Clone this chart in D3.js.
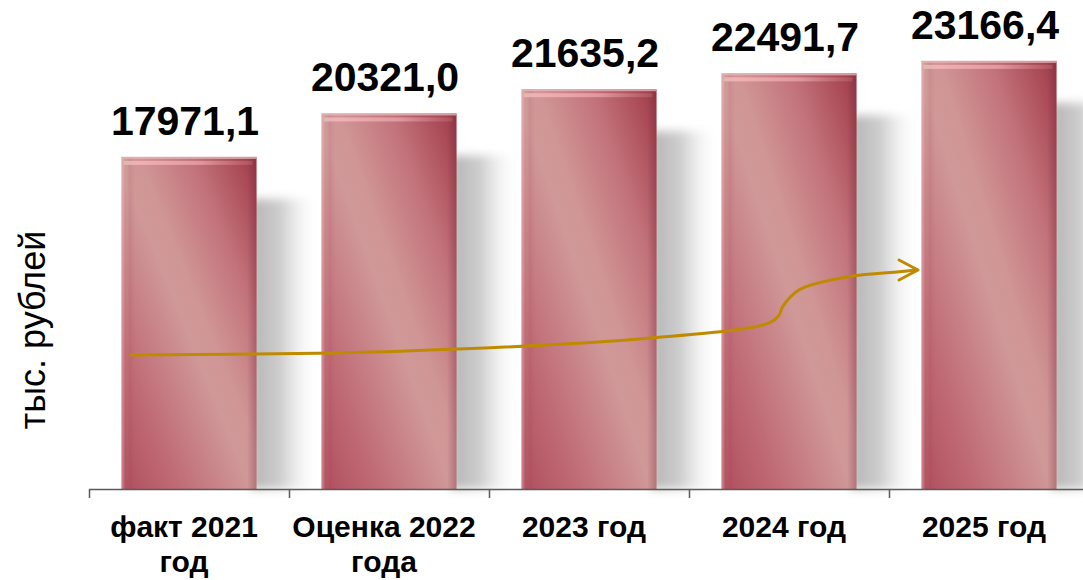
<!DOCTYPE html>
<html>
<head>
<meta charset="utf-8">
<script src="https://cdn.jsdelivr.net/npm/d3@7"></script>
<style>
  html, body { margin: 0; padding: 0; background: #fff; }
  svg { display: block; }
  text { font-family: "Liberation Sans", Arial, Helvetica, sans-serif; }
</style>
</head>
<body>
<svg id="chart" width="1083" height="580"></svg>
<script>
// ---- data ----
const categories = ["факт 2021 год", "Оценка 2022 года", "2023 год", "2024 год", "2025 год"];
const categoryLines = [["факт 2021", "год"], ["Оценка 2022", "года"], ["2023 год"], ["2024 год"], ["2025 год"]];
const values = [17971.1, 20321.0, 21635.2, 22491.7, 23166.4];
const yAxisTitle = "тыс. рублей";
// trend arrow path in (category index position, value) units
const arrowIdx = [0.21, 1.555, 2.805, 3.405, 3.45, 3.47, 3.555, 3.805, 4.05, 4.14];
const arrowVal = [7250, 7460, 8170, 9000, 9400, 9900, 10800, 11500, 11760, 11850];

// ---- layout ----
const W = 1083, H = 580;
const svg = d3.select("#chart");
const x = d3.scaleBand().domain(categories).range([89, 1089]).paddingInner(0.325).paddingOuter(0.1625);
const xi = d3.scaleLinear().domain([0, categories.length]).range([89, 1089]);
const y = d3.scaleLinear().domain([0, 25000]).range([489, 27]);
const fmt = d3.formatLocale({decimal: ",", thousands: "", grouping: [3], currency: ["", ""]}).format(".1f");

const defs = svg.append("defs");
const g1 = defs.append("linearGradient").attr("id", "barGrad")
  .attr("x1", 0).attr("y1", 1).attr("x2", 1).attr("y2", 0);
[[0, "#b04e5e"], [0.22, "#c06c76"], [0.48, "#d09898"], [0.56, "#d09696"], [0.76, "#c2727a"], [0.92, "#ab4c58"], [1, "#9c3a48"]]
  .forEach(([o, c]) => g1.append("stop").attr("offset", o).attr("stop-color", c));

const g2 = defs.append("linearGradient").attr("id", "edgeGrad").attr("x1", 0).attr("x2", 1).attr("y1", 0).attr("y2", 0);
[[0, "#f0c8c8", 0.5], [0.03, "#f0c8c8", 0.0], [0.06, "#8a3040", 0.1], [0.1, "#8a3040", 0.0],
 [0.93, "#6a2030", 0.0], [0.98, "#6a2030", 0.22], [1, "#6a2030", 0.3]]
  .forEach(([o, c, op]) => g2.append("stop").attr("offset", o).attr("stop-color", c).attr("stop-opacity", op));

const g3 = defs.append("linearGradient").attr("id", "shadowGrad").attr("x1", 0).attr("x2", 1).attr("y1", 0).attr("y2", 0);
[[0, "#b4b4b4", 1], [0.45, "#cfcfcf", 1], [1, "#ffffff", 0]]
  .forEach(([o, c, op]) => g3.append("stop").attr("offset", o).attr("stop-color", c).attr("stop-opacity", op));

defs.append("filter").attr("id", "blur").attr("x", "-20%").attr("y", "-20%").attr("width", "140%").attr("height", "140%")
  .append("feGaussianBlur").attr("stdDeviation", 5);

const g4 = defs.append("linearGradient").attr("id", "topGrad").attr("x1", 0).attr("x2", 1).attr("y1", 0).attr("y2", 0);
[[0, "#e0bcb4", 0.9], [0.1, "#f4b4b8", 0.9], [0.6, "#eea8ae", 0.7], [1, "#c0707a", 0.4]]
  .forEach(([o, c, op]) => g4.append("stop").attr("offset", o).attr("stop-color", c).attr("stop-opacity", op));

// shadows
const shadowW = x.step() - x.bandwidth();
svg.append("g").selectAll("rect").data(values).join("rect")
  .attr("x", (d, i) => x(categories[i]) + x.bandwidth() - 6)
  .attr("y", d => y(d) + 42)
  .attr("width", shadowW + 4)
  .attr("height", d => y(0) - y(d) - 42)
  .attr("fill", "url(#shadowGrad)")
  .attr("filter", "url(#blur)");

// bars
const bars = svg.append("g");
bars.selectAll("rect.bar").data(values).join("rect").attr("class", "bar")
  .attr("x", (d, i) => x(categories[i]))
  .attr("y", d => y(d))
  .attr("width", x.bandwidth())
  .attr("height", d => y(0) - y(d))
  .attr("fill", "url(#barGrad)");
bars.selectAll("rect.edge").data(values).join("rect").attr("class", "edge")
  .attr("x", (d, i) => x(categories[i]))
  .attr("y", d => y(d))
  .attr("width", x.bandwidth())
  .attr("height", d => y(0) - y(d))
  .attr("fill", "url(#edgeGrad)");
bars.selectAll("rect.top").data(values).join("rect").attr("class", "top")
  .attr("x", (d, i) => x(categories[i]) + 2)
  .attr("y", d => y(d) + 4)
  .attr("width", x.bandwidth() - 6)
  .attr("height", 4)
  .attr("fill", "url(#topGrad)");
bars.selectAll("rect.topline").data(values).join("rect").attr("class", "topline")
  .attr("x", (d, i) => x(categories[i]))
  .attr("y", d => y(d))
  .attr("width", x.bandwidth())
  .attr("height", 2)
  .attr("fill", "#e4b4b4").attr("opacity", 0.8);

// axis
const axisG = svg.append("g").attr("transform", `translate(0,${y(0)})`);
axisG.append("line").attr("x1", xi(0)).attr("x2", W).attr("y1", 0.5).attr("y2", 0.5)
  .attr("stroke", "#5a5a5a").attr("stroke-width", 1.5);
axisG.selectAll("line.tick").data(d3.range(categories.length + 1)).join("line").attr("class", "tick")
  .attr("x1", d => xi(d) + 0.5).attr("x2", d => xi(d) + 0.5)
  .attr("y1", 0).attr("y2", 9)
  .attr("stroke", "#5a5a5a").attr("stroke-width", 1.5);

// category labels
const catG = svg.append("g");
categoryLines.forEach((lines, i) => {
  const cx = x(categories[i]) + x.bandwidth() / 2 - 5;
  const t = catG.append("text").attr("text-anchor", "middle")
    .attr("font-size", 30).attr("font-weight", "bold").attr("fill", "#000");
  lines.forEach((ln, j) => {
    t.append("tspan").attr("x", cx).attr("y", 537 + j * 35).text(ln);
  });
});

// value labels
svg.append("g").selectAll("text").data(values).join("text")
  .attr("x", (d, i) => x(categories[i]) + x.bandwidth() / 2 - 4)
  .attr("y", d => y(d) - 22)
  .attr("text-anchor", "middle")
  .attr("font-size", 41).attr("font-weight", "bold").attr("fill", "#000")
  .text(d => fmt(d));

// y axis title
svg.append("text")
  .attr("transform", `translate(45,330) rotate(-90)`)
  .attr("text-anchor", "middle")
  .attr("font-size", 36).attr("fill", "#000")
  .text(yAxisTitle);

// trend arrow
const pts = arrowIdx.map((v, i) => [xi(v), y(arrowVal[i])]);
svg.append("path")
  .attr("d", d3.line().curve(d3.curveCatmullRom.alpha(0.5))(pts))
  .attr("fill", "none").attr("stroke", "#bf8a00").attr("stroke-width", 3).attr("stroke-linecap", "round");
const tip = pts[pts.length - 1];
svg.append("path")
  .attr("d", d3.line()([[tip[0] - 18, tip[1] - 10], [tip[0] + 1, tip[1]], [tip[0] - 18, tip[1] + 10]]))
  .attr("fill", "none").attr("stroke", "#bf8a00").attr("stroke-width", 3)
  .attr("stroke-linecap", "round").attr("stroke-linejoin", "round");
</script>
</body>
</html>
